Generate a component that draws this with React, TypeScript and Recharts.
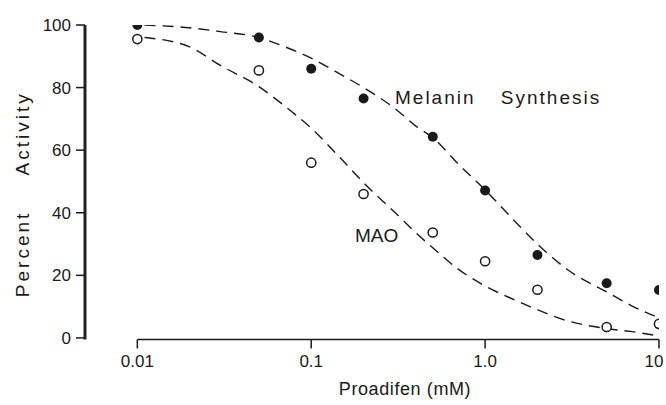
import React from "react";
import {
  ComposedChart,
  Line,
  Scatter,
  XAxis,
  YAxis,
  ReferenceLine,
} from "recharts";

if (typeof document !== "undefined") {
  document.body.style.margin = "0";
}

// ---- Data ----
const xTicks = [0.01, 0.1, 1, 10];
const xTickLabels = ["0.01", "0.1", "1.0", "10"];
const yTicks = [0, 20, 40, 60, 80, 100];

const concentrations = [0.01, 0.05, 0.1, 0.2, 0.5, 1, 2, 5, 10];
const melaninActivity = [100, 96, 86, 76.5, 64.3, 47.1, 26.5, 17.5, 15.3];
const maoActivity = [95.5, 85.5, 56, 46, 33.7, 24.5, 15.4, 3.5, 4.5];

const curveX = [0.011, 0.02, 0.03, 0.05, 0.07, 0.1, 0.15, 0.2, 0.3, 0.4, 0.5, 0.7, 1, 1.5, 2, 3, 5, 7, 10];
const melaninCurveY = [100, 99.1, 97.9, 96, 93.1, 89.4, 84, 80, 73.5, 67.7, 64, 55.6, 47.3, 37, 30, 21.7, 14.7, 10.2, 6.4];
const maoCurveY = [96, 93, 87.1, 80.3, 74.2, 67, 57, 49.6, 40.3, 33.6, 28.8, 22, 16.6, 12, 9, 5.4, 3, 2, 0.6];

const melaninLabel = { x: 0.3032, y: 74.75, text: "Melanin Synthesis" };
const maoLabel = { x: 0.1785, y: 30.6, text: "MAO" };

const xTitle = "Proadifen (mM)";
const yTitle = "Percent Activity";

const xMin = 0.005;
const yMin = -0.5;

// ---- Derived tables ----
const melaninPoints = concentrations.map((x, i) => ({ x, y: melaninActivity[i] }));
const maoPoints = concentrations.map((x, i) => ({ x, y: maoActivity[i] }));
const melaninCurve = curveX.map((x, i) => ({ x, y: melaninCurveY[i] }));
const maoCurve = curveX.map((x, i) => ({ x, y: maoCurveY[i] }));

const INK = "#1a1a1a";
const FONT = '"Liberation Sans", Arial, sans-serif';

const FilledDot = (p: any) => <circle cx={p.cx} cy={p.cy} r={5} fill={INK} />;
const OpenDot = (p: any) => (
  <circle cx={p.cx} cy={p.cy} r={4.6} fill="#fff" stroke={INK} strokeWidth={1.5} />
);

const makeTextShape = (text: string, extra: any) => (p: any) => (
  <text
    x={p.cx}
    y={p.cy}
    fill={INK}
    fontFamily={FONT}
    fontSize={19}
    textAnchor="start"
    style={extra}
  >
    {text}
  </text>
);

const XTick = (p: any) => {
  const v = p.payload?.value;
  const idx = xTicks.indexOf(v);
  const label = idx >= 0 ? xTickLabels[idx] : String(v);
  const shift = idx === xTicks.length - 1 ? -5 : 0;
  return (
    <text
      x={p.x + shift}
      y={p.y}
      dy="0.71em"
      textAnchor="middle"
      fill={INK}
      fontFamily={FONT}
      fontSize={17}
    >
      {label}
    </text>
  );
};

const XTitle = (props: any) => {
  const vb = props.viewBox || { x: 0, y: 0, width: 0, height: 0 };
  return (
    <text
      x={vb.x + vb.width / 2 + 33}
      y={vb.y + 55}
      textAnchor="middle"
      fill={INK}
      fontFamily={FONT}
      fontSize={18}
      style={{ letterSpacing: "0.6px" }}
    >
      {xTitle}
    </text>
  );
};

const YTitle = (props: any) => {
  const vb = props.viewBox || { x: 0, y: 0, width: 0, height: 0 };
  const x = 29;
  const y = vb.y + vb.height / 2 + 12;
  return (
    <text
      x={x}
      y={y}
      transform={`rotate(-90, ${x}, ${y})`}
      textAnchor="middle"
      fill={INK}
      fontFamily={FONT}
      fontSize={19}
      style={{ letterSpacing: "3px", wordSpacing: "28px" }}
    >
      {yTitle}
    </text>
  );
};

export default function App() {
  return (
    <div style={{ width: 666, height: 405, background: "#fff" }}>
      <ComposedChart
        width={666}
        height={405}
        margin={{ top: 25, right: 7, bottom: 0, left: 0 }}
      >
        <XAxis
          dataKey="x"
          type="number"
          scale="log"
          domain={[xMin, 10]}
          allowDataOverflow
          ticks={xTicks}
          axisLine={false}
          tickLine={{ stroke: INK, strokeWidth: 1.5 }}
          tickSize={9}
          tickMargin={6}
          height={65.5}
          interval={0}
          tick={<XTick />}
          label={<XTitle />}
        />
        <YAxis
          dataKey="y"
          type="number"
          domain={[yMin, 100]}
          allowDataOverflow
          ticks={yTicks}
          width={85}
          axisLine={{ stroke: "#222222", strokeWidth: 3 }}
          tickLine={{ stroke: INK, strokeWidth: 1.5 }}
          tickSize={9}
          tickMargin={5}
          interval={0}
          tick={{ fill: INK, fontSize: 17, fontFamily: FONT }}
          label={<YTitle />}
        />
        <ReferenceLine
          segment={[
            { x: 0.01, y: yMin },
            { x: 10, y: yMin },
          ]}
          stroke={INK}
          strokeWidth={1.5}
          ifOverflow="visible"
        />
        <Line
          data={melaninCurve}
          dataKey="y"
          type="monotone"
          stroke={INK}
          strokeWidth={1.4}
          strokeDasharray="11 7"
          dot={false}
          activeDot={false}
          isAnimationActive={false}
        />
        <Line
          data={maoCurve}
          dataKey="y"
          type="monotone"
          stroke={INK}
          strokeWidth={1.4}
          strokeDasharray="11 7"
          dot={false}
          activeDot={false}
          isAnimationActive={false}
        />
        <Scatter data={melaninPoints} dataKey="y" shape={FilledDot} isAnimationActive={false} />
        <Scatter data={maoPoints} dataKey="y" shape={OpenDot} isAnimationActive={false} />
        <Scatter
          data={[melaninLabel]}
          dataKey="y"
          shape={makeTextShape(melaninLabel.text, { letterSpacing: "2px", wordSpacing: "18px" })}
          isAnimationActive={false}
        />
        <Scatter
          data={[maoLabel]}
          dataKey="y"
          shape={makeTextShape(maoLabel.text, { letterSpacing: "0px" })}
          isAnimationActive={false}
        />
      </ComposedChart>
    </div>
  );
}
